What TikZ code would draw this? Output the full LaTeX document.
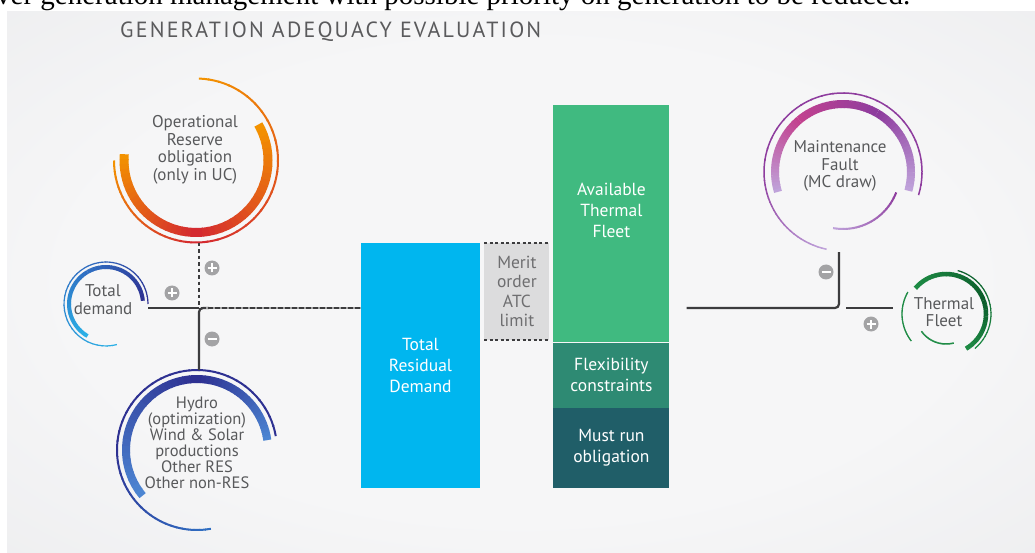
\documentclass[tikz,border=0pt]{standalone}
\usepackage{graphicx}
\usepackage{fontspec}
\setmainfont{PT Sans}
\newfontfamily\serifcut{Liberation Serif}
\usetikzlibrary{calc,positioning}

\definecolor{panelin}{HTML}{F6F6F7}
\definecolor{panelout}{HTML}{DCDDE0}
\definecolor{titlegray}{HTML}{5A5A5C}
\definecolor{ringgray}{HTML}{58595B}
\definecolor{linegray}{HTML}{3C3C3E}
\definecolor{signgray}{HTML}{A3A3A5}
\definecolor{oporange}{HTML}{F39200}
\definecolor{opred}{HTML}{D42A30}
\definecolor{dmnavy}{HTML}{2E3192}
\definecolor{dmblue}{HTML}{2F6EC2}
\definecolor{dmcyan}{HTML}{2BB0E6}
\definecolor{hylight}{HTML}{4C85D2}
\definecolor{mtlilac}{HTML}{BFA2DA}
\definecolor{mtmagenta}{HTML}{C2418F}
\definecolor{mtpurple}{HTML}{8E3C9E}
\definecolor{tfgreen}{HTML}{1E8B45}
\definecolor{tfdark}{HTML}{0B5D2B}
\definecolor{trdblue}{HTML}{00B6EF}
\definecolor{meritfill}{HTML}{DCDCDD}
\definecolor{merittext}{HTML}{6E6E70}
\definecolor{atfgreen}{HTML}{40BA80}
\definecolor{flexteal}{HTML}{2E8A73}
\definecolor{mustteal}{HTML}{205E68}

\pgfdeclareradialshading{panelshade}{\pgfpoint{0bp}{0bp}}{color(0bp)=(panelin); color(22bp)=(panelin); color(71bp)=(panelout)}

% arc whose colour runs from #6 (at angle #3) to #7 (at angle #4)
\newcommand\ringarc[7]{%
  \foreach \k in {0,...,23}{%
    \pgfmathsetmacro\ta{#3+(#4-#3)*\k/24}%
    \pgfmathsetmacro\tb{#3+(#4-#3)*min(\k+1.15,24)/24}%
    \pgfmathtruncatemacro\mixp{100-100*\k/23}%
    \draw[line width=#5, draw=#6!\mixp!#7] (#1) ++(\ta:#2) arc[start angle=\ta, end angle=\tb, radius=#2];
  }%
}

\begin{document}
\begin{tikzpicture}[
  x=1pt, y=1pt,
  ring/.style={circle, minimum size=#1, inner sep=0pt},
  ringlbl/.style={font=\fontsize{17}{17.5}\selectfont, text=ringgray, align=center, inner sep=0pt},
  bar/.style={inner sep=0pt, align=center, text=white, font=\fontsize{17.5}{21}\selectfont},
  conn/.style={draw=linegray, line width=2.2pt},
  dotconn/.style={conn, dash pattern=on 3.5pt off 3pt},
  dashconn/.style={conn, dash pattern=on 5pt off 2pt, preaction={draw=gray!70, solid, line width=2.2pt}},
  sgn/.style={circle, fill=signgray, minimum size=15pt, inner sep=0pt},
  sgnplus/.style={sgn, path picture={\draw[white, line width=2.3pt]
      ([xshift=-4.5pt]path picture bounding box.center) -- ([xshift=4.5pt]path picture bounding box.center)
      ([yshift=-4.5pt]path picture bounding box.center) -- ([yshift=4.5pt]path picture bounding box.center);}},
  sgnminus/.style={sgn, path picture={\draw[white, line width=2.3pt]
      ([xshift=-4.5pt]path picture bounding box.center) -- ([xshift=4.5pt]path picture bounding box.center);}}
]
\useasboundingbox (0,0) rectangle (1035,552);
\clip (0,0) rectangle (1035,552);
\fill[white] (0,0) rectangle (1035,552);
\shade[shading=panelshade] (7,0) rectangle (1035,540);

% cut-off line of the page above
\node[anchor=base west, inner sep=0pt, font=\serifcut\fontsize{29}{29}\selectfont] (cuttext) at (-4,547.5)
  {ver generation management with possible priority on generation to be reduced.};
\node[anchor=base west, inner sep=0pt, text=titlegray] (title) at (120,514)
  {\resizebox{421pt}{!}{\addfontfeatures{LetterSpace=10}GENERATION ADEQUACY EVALUATION}};

% rings
\node[ring=164pt] (opres) at (196,391.5) {};
\node[ringlbl] (opres-t) at (195,402) {Operational\\Reserve\\obligation\\(only in UC)};
\ringarc{opres.center}{72}{175}{270}{9pt}{oporange}{opred}
\ringarc{opres.center}{72}{270}{390}{9pt}{opred}{oporange}
\ringarc{opres.center}{82}{-180}{-90}{2pt}{oporange}{opred}
\ringarc{opres.center}{82}{-90}{88}{2pt}{opred}{oporange}

\node[ring=84pt] (tdem) at (106,248) {};
\node[ringlbl, font=\fontsize{17}{18}\selectfont] (tdem-t) at (103,252) {Total\\demand};
\ringarc{tdem.center}{37}{5}{120}{4pt}{dmnavy}{dmblue}
\ringarc{tdem.center}{37}{120}{240}{4pt}{dmblue}{dmcyan}
\ringarc{tdem.center}{42}{0}{120}{1.2pt}{dmnavy}{dmblue}
\ringarc{tdem.center}{42}{120}{285}{1.2pt}{dmblue}{dmcyan}

\node[ring=160pt] (hydro) at (197,102) {};
\node[ringlbl, font=\fontsize{16.5}{16}\selectfont] (hydro-t) at (197,109)
  {Hydro\\(optimization)\\Wind \& Solar\\productions\\Other RES\\Other non-RES};
\ringarc{hydro.center}{71}{8}{90}{8pt}{hylight}{dmnavy}
\ringarc{hydro.center}{71}{90}{220}{8pt}{dmnavy}{hylight}
\ringarc{hydro.center}{80}{10}{180}{2pt}{dmnavy}{dmnavy}
\ringarc{hydro.center}{80}{180}{280}{2pt}{dmnavy}{dmblue}

\node[ring=160pt] (maint) at (843,380) {};
\node[ringlbl] (maint-t) at (840,386) {Maintenance\\Fault\\(MC draw)};
\ringarc{maint.center}{79}{258}{180}{1.5pt}{mtlilac}{mtpurple}
\ringarc{maint.center}{79}{180}{-17}{1.5pt}{mtpurple}{mtpurple}
\ringarc{maint.center}{68}{197}{130}{8pt}{mtlilac}{mtmagenta}
\ringarc{maint.center}{68}{130}{60}{8pt}{mtmagenta}{mtpurple}
\ringarc{maint.center}{68}{60}{-16}{8pt}{mtpurple}{mtlilac}
\ringarc{maint.center}{57}{260}{339}{2pt}{mtlilac}{mtpurple}

\node[ring=88pt] (therm) at (946,238) {};
\node[ringlbl] (therm-t) at (944,240) {Thermal\\Fleet};
\ringarc{therm.center}{44}{150}{218}{1.3pt}{tfgreen}{tfgreen}
\ringarc{therm.center}{40}{140}{20}{4.5pt}{tfgreen}{tfdark}
\ringarc{therm.center}{40}{20}{-60}{4.5pt}{tfdark}{tfgreen}
\ringarc{therm.center}{45}{75}{-50}{1.2pt}{tfdark}{tfgreen}
\ringarc{therm.center}{30}{215}{285}{1.5pt}{tfgreen}{tfgreen}

% bars
\node[bar, fill=trdblue, minimum width=119pt, minimum height=245pt] (trd) at (420.5,186.5) {Total\\Residual\\Demand};
\node[bar, fill=meritfill, text=merittext, font=\fontsize{17.5}{19.5}\selectfont, minimum width=65pt, minimum height=97pt,
  anchor=north west] (merit) at ([xshift=4pt]trd.north east) {Merit\\order\\ATC\\limit};
\draw[linegray, line width=2pt, dash pattern=on 3pt off 2.5pt] (merit.north west) -- (merit.north east);
\draw[linegray, line width=2pt, dash pattern=on 3pt off 2.5pt] (merit.south west) -- (merit.south east);
\node[bar, fill=mustteal, minimum width=116pt, minimum height=80pt, anchor=south west] (mustrun)
  at ([xshift=73pt]trd.south east) {Must run\\obligation};
\node[bar, fill=flexteal, minimum width=116pt, minimum height=65pt, above=0pt of mustrun] (flexc) {Flexibility\\constraints};
\node[bar, fill=atfgreen, minimum width=116pt, minimum height=237pt, above=0pt of flexc] (atf) {};
\node[bar] (atf-t) at ([yshift=13pt]atf.center) {Available\\Thermal\\Fleet};

% connectors
\coordinate (jl) at (199,244);
\coordinate (jr) at (839,244);
\coordinate (jrend) at ([xshift=17pt]atf.east |- jr);
\draw[conn] (tdem.east |- jl) -- (jl);
\draw[dotconn] (opres.south -| jl) -- (jl);
\draw[conn, rounded corners=4pt] (hydro.north -| jl) |- ([xshift=10pt]jl);
\draw[dashconn] ([xshift=2pt]jl) -- (trd.west |- jl);
\draw[conn, rounded corners=4pt] (maint.south -| jr) |- (jrend);
\draw[conn] ([xshift=7pt]jr) -- ([xshift=-9pt]therm.west |- jr);

\node[sgnplus] (plus-res) at (212,284) {};
\node[sgnplus] (plus-dem) at (172,259) {};
\node[sgnminus] (minus-ren) at (212,213) {};
\node[sgnminus] (minus-mnt) at (826,280) {};
\node[sgnplus] (plus-thm) at (871,228) {};
\end{tikzpicture}
\end{document}
